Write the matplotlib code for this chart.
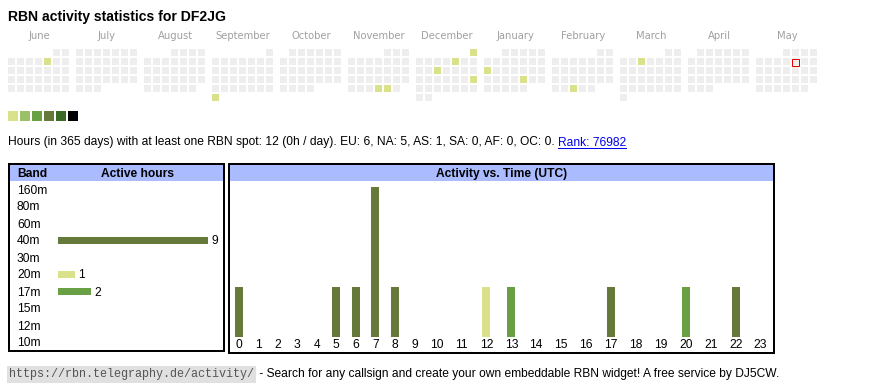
import calendar
import datetime as dt
import numpy as np
import matplotlib.pyplot as plt
from matplotlib.patches import Rectangle

plt.rcParams['font.family'] = ['Liberation Sans', 'DejaVu Sans']

W, H = 870, 390
PT = 0.72  # points per pixel at dpi 100

callsign = "DF2JG"

months = ["June", "July", "August", "September", "October", "November",
          "December", "January", "February", "March", "April", "May"]
month_years = [2024, 2024, 2024, 2024, 2024, 2024, 2024, 2025, 2025, 2025, 2025, 2025]
month_nums = [6, 7, 8, 9, 10, 11, 12, 1, 2, 3, 4, 5]

active_days = ["2024-06-07", "2024-09-30", "2024-11-28", "2024-11-29",
               "2024-12-01", "2024-12-06", "2024-12-11", "2024-12-22",
               "2025-01-13", "2025-01-24", "2025-02-26", "2025-03-05"]
active_day_hours = [1, 1, 1, 1, 1, 1, 1, 1, 1, 1, 1, 1]
today = "2025-05-09"

level_colors = ["#d9e18a", "#9cc068", "#68a043", "#66793b", "#3b6a27", "#000000"]
empty_color = "#eeeeee"

bands = ["160m", "80m", "60m", "40m", "30m", "20m", "17m", "15m", "12m", "10m"]
band_hours = [0, 0, 0, 9, 0, 1, 2, 0, 0, 0]
band_colors = {"40m": "#66793b", "20m": "#d9e18a", "17m": "#68a043"}

hours = [str(h) for h in range(24)]
hour_counts = [1, 0, 0, 0, 0, 1, 1, 3, 1, 0, 0, 0, 1, 1, 0, 0, 0, 1, 0, 0, 1, 0, 1, 0]
hour_band = ["40m", "", "", "", "", "40m", "40m", "40m", "40m", "", "", "",
             "20m", "17m", "", "", "", "40m", "", "", "17m", "", "40m", ""]

continents = ["EU", "NA", "AS", "SA", "AF", "OC"]
continent_hours = [6, 5, 1, 0, 0, 0]
rank = 76982
days_total = 365

fig = plt.figure(figsize=(W / 100, H / 100), dpi=100)
page = fig.add_axes([0, 0, 1, 1])
page.set_xlim(0, W)
page.set_ylim(H, 0)
page.axis("off")


def px_axes(x, y, w, h):
    return fig.add_axes([x / W, 1 - (y + h) / H, w / W, h / H])


# title
page.text(8, 21, f"RBN activity statistics for {callsign}", fontsize=14 * PT,
          fontweight="bold", va="baseline")

# calendar
cal_x0, cal_y0, pitch, cell, block = 8, 49, 9, 7, 68
active = {d: v for d, v in zip(active_days, active_day_hours)}
for m, (name, yr, mo) in enumerate(zip(months, month_years, month_nums)):
    bx = cal_x0 + m * block
    page.text(bx + 31, 39, name, fontsize=10 * PT, color="#a0a0a0",
              family="DejaVu Sans", ha="center", va="baseline")
    first_wd, ndays = calendar.monthrange(yr, mo)
    for d in range(1, ndays + 1):
        key = f"{yr}-{mo:02d}-{d:02d}"
        wd = dt.date(yr, mo, d).weekday()
        row = (d - 1 + first_wd) // 7
        x = bx + wd * pitch
        y = cal_y0 + row * pitch
        if key in active:
            fc = level_colors[min(active[key], len(level_colors)) - 1]
        else:
            fc = empty_color
        page.add_patch(Rectangle((x, y), cell, cell, facecolor=fc, edgecolor="none"))
        if key == today:
            page.add_patch(Rectangle((x + 0.5, y + 0.5), cell, cell, facecolor="none",
                                     edgecolor="#ee0000", lw=1 * PT))

# legend squares
for i, c in enumerate(level_colors):
    page.add_patch(Rectangle((8 + i * 12, 111), 10, 10, facecolor=c, edgecolor="none"))

# summary line
total = sum(hour_counts)
cont = ", ".join(f"{c}: {v}" for c, v in zip(continents, continent_hours))
summary = (f"Hours (in {days_total} days) with at least one RBN spot: {total} "
           f"({total // days_total}h / day). {cont}. ")
fig.canvas.draw()
r = fig.canvas.get_renderer()
t1 = page.text(8, 145.5, summary, fontsize=12 * PT, va="baseline")
bb = t1.get_window_extent(r)
t2 = page.text(bb.x1, 145.5, f"Rank: {rank}", fontsize=12 * PT, va="baseline",
               color="#0000ee")
bb2 = t2.get_window_extent(r)
page.plot([bb2.x0, bb2.x1], [147.5, 147.5], color="#0000ee", lw=1 * PT)

# boxes and headers
page.add_patch(Rectangle((10, 165), 213, 16, facecolor="#aabbff", edgecolor="none"))
page.add_patch(Rectangle((230, 165), 543, 16, facecolor="#aabbff", edgecolor="none"))
page.add_patch(Rectangle((9, 164), 215, 187, facecolor="none", edgecolor="black", lw=2 * PT))
page.add_patch(Rectangle((229, 164), 545, 189, facecolor="none", edgecolor="black", lw=2 * PT))
page.text(17, 177, "Band", fontsize=12 * PT, fontweight="bold", va="baseline")
page.text(137.5, 177, "Active hours", fontsize=12 * PT, fontweight="bold",
          ha="center", va="baseline")
page.text(501.5, 177, "Activity vs. Time (UTC)", fontsize=12 * PT, fontweight="bold",
          ha="center", va="baseline")

# band bars
bax = px_axes(58, 180.5, 165, 170)
bax.patch.set_alpha(0)
bax.set_xlim(0, 165 / 16.67)
bax.set_ylim(len(bands) - 0.5, -0.5)
bcols = [band_colors.get(b, "#66793b") for b in bands]
bax.barh(range(len(bands)), band_hours, height=7 / 17, color=bcols)
for i, v in enumerate(band_hours):
    if v:
        bax.annotate(str(v), (v, i), xytext=(3 * PT, 0), textcoords="offset points",
                     fontsize=12 * PT, va="center_baseline", ha="left")
bax.set_yticks(range(len(bands)), bands)
bax.tick_params(axis="y", length=0, pad=41 * PT, labelsize=12 * PT)
for lbl in bax.get_yticklabels():
    lbl.set_horizontalalignment("left")
bax.set_xticks([])
for s in bax.spines.values():
    s.set_visible(False)

# time bars: column widths follow label width like an html table
inner_w = 544
char_w = 5.4
nchar = np.array([len(h) for h in hours])
pad = (inner_w - char_w * nchar.sum()) / len(hours)
widths = pad + char_w * nchar
centers = np.cumsum(widths) - widths / 2

tax = px_axes(229, 181, inner_w, 156)
tax.patch.set_alpha(0)
tax.set_xlim(0, inner_w)
tax.set_ylim(0, 156 / 50)
tcols = [band_colors.get(b, "#66793b") for b in hour_band]
tax.bar(centers, hour_counts, width=8, color=tcols)
tax.set_xticks(centers, hours)
tax.tick_params(axis="x", length=0, pad=2.5 * PT, labelsize=12 * PT)
tax.set_yticks([])
for s in tax.spines.values():
    s.set_visible(False)

# footer
t3 = page.text(9, 377.5, "https://rbn.telegraphy.de/activity/", family="Liberation Mono",
               fontsize=11.7 * PT, color="#555555", va="baseline",
               bbox=dict(facecolor="#e0e0e0", edgecolor="none", pad=1.5))
bb3 = t3.get_window_extent(r)
page.text(bb3.x1 + 2, 377.5,
          " - Search for any callsign and create your own embeddable RBN widget! "
          "A free service by DJ5CW.", fontsize=12 * PT, va="baseline")

fig.savefig("out.png", dpi=100)
